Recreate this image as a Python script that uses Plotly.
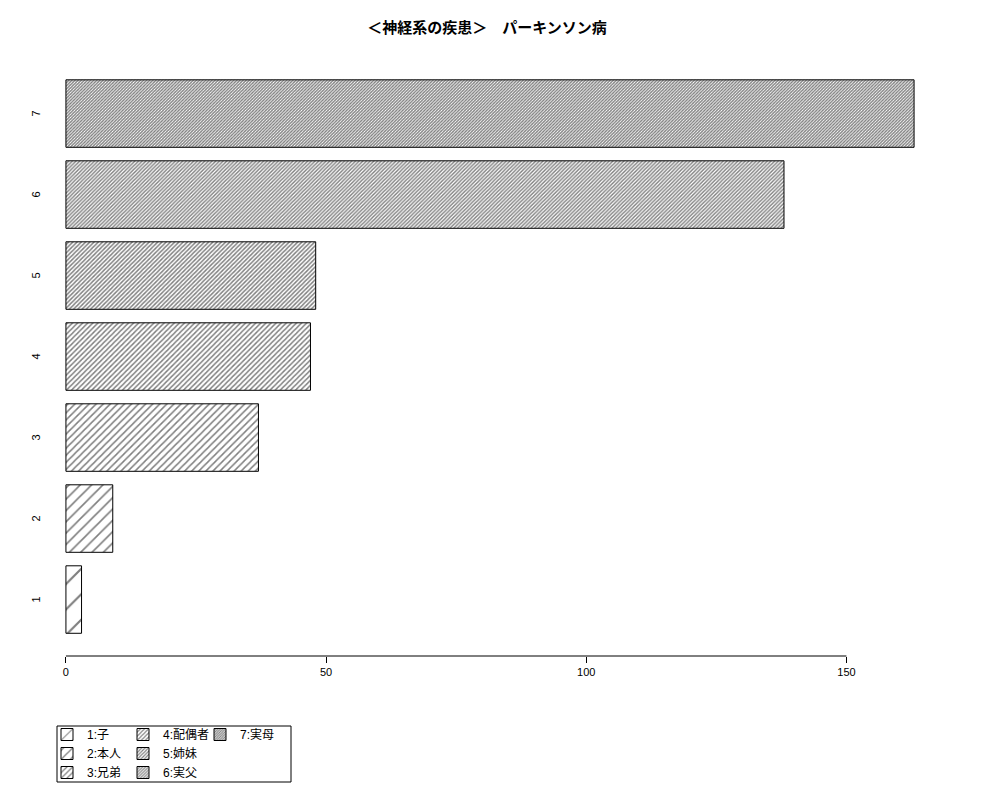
import plotly.graph_objects as go

# data
categories = [1, 2, 3, 4, 5, 6, 7]
values = [3, 9, 37, 47, 48, 138, 163]
legend_labels = ["1:子", "2:本人", "3:兄弟", "4:配偶者", "5:姉妹", "6:実父", "7:実母"]
x_ticks = [0, 50, 100, 150]
title = "＜神経系の疾患＞　パーキンソン病"

# hatch spacing (px) and line weight per bar, densest for the last bar
hatch_size = [18, 8, 5, 3.6, 3, 2.6, 2.2]
hatch_solid = [0.12, 0.2, 0.3, 0.4, 0.48, 0.55, 0.6]
legend_col = ["legend", "legend", "legend", "legend2", "legend2", "legend2", "legend3"]

FONT = "Liberation Sans, Arial, Noto Sans CJK JP, sans-serif"

# plot area in figure pixels (page has an 8px body margin)
L, R, T, B = 24, 940, 50, 648
W, H = R - L, B - T

fig = go.Figure()
for i, cat in enumerate(categories):
    fig.add_trace(go.Bar(
        x=[values[i]], y=[cat], orientation="h",
        name=legend_labels[i], legend=legend_col[i],
        marker=dict(color="white", line=dict(color="black", width=1),
                    pattern=dict(shape="/", size=hatch_size[i], solidity=hatch_solid[i],
                                 fgcolor="black", bgcolor="white", fillmode="overlay")),
        showlegend=True,
    ))

pad = 0.04 * max(values)
xr = [-pad, max(values) + pad]

# y category labels, rotated like R's axis(2)
for cat in categories:
    fig.add_annotation(x=xr[0] + 0.75, y=cat, xref="x", yref="y", text=str(cat),
                       textangle=-90, showarrow=False, font=dict(size=11, color="black"))

# x axis line spans only the tick range
fig.add_shape(type="line", xref="x", yref="paper", x0=x_ticks[0], x1=x_ticks[-1], y0=0, y1=0,
              line=dict(color="black", width=1))

# legend frame
fig.add_shape(type="rect", xref="paper", yref="paper",
              x0=(49 - L) / W, x1=(283 - L) / W,
              y0=(B - 774) / H, y1=(B - 718) / H,
              line=dict(color="black", width=1), fillcolor="rgba(0,0,0,0)")

leg = dict(orientation="v", yanchor="top", y=(B - 712) / H, xanchor="left",
           bgcolor="rgba(0,0,0,0)", borderwidth=0, font=dict(size=12, color="black"),
           tracegroupgap=0)
fig.update_layout(
    width=1000, height=800,
    margin=dict(l=L, r=1000 - R, t=T, b=800 - B, autoexpand=False),
    paper_bgcolor="white", plot_bgcolor="white",
    font=dict(family=FONT, color="black"),
    title=dict(text=title, x=(L + R) / 2 / 1000 - 0.003, xanchor="center", y=1 - 20 / 800,
               yanchor="middle", yref="container",
               font=dict(size=15, weight="bold", color="black")),
    barmode="overlay", bargap=1 / 6,
    xaxis=dict(range=xr, tickvals=x_ticks, ticks="outside", ticklen=6, tickcolor="black",
               showgrid=False, zeroline=False, showline=False,
               tickfont=dict(size=11, color="black")),
    yaxis=dict(range=[categories[0] - 0.697, categories[-1] + 0.686], showticklabels=False,
               showgrid=False, zeroline=False, showline=False, ticks=""),
    legend=dict(leg, x=(39 - L) / W),
    legend2=dict(leg, x=(115 - L) / W),
    legend3=dict(leg, x=(192 - L) / W),
)

fig.write_html("out.html")
